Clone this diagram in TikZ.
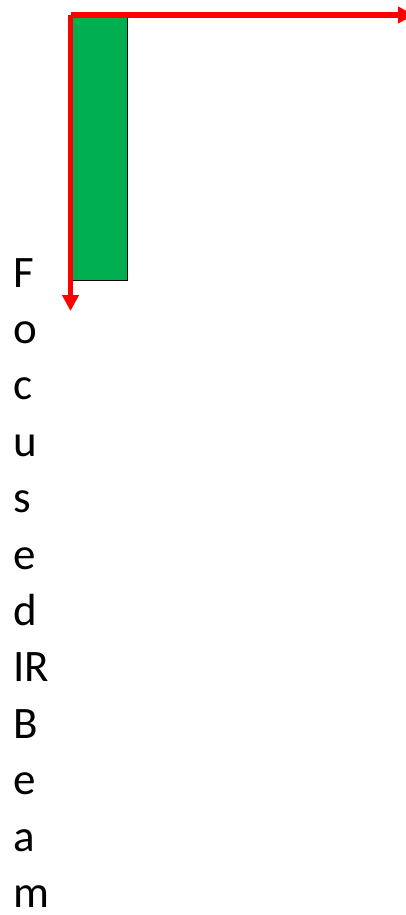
\documentclass[tikz,border=0pt]{standalone}
\usepackage{fontspec}
\setmainfont{Carlito}
\usepackage{tikz}
\usetikzlibrary{arrows.meta}
\definecolor{samplegreen}{RGB}{0,176,80}
\definecolor{axisred}{RGB}{255,0,0}

\begin{document}
\begin{tikzpicture}[
  x=1pt, y=-1pt,
  sample/.style={draw=black, line width=1.3pt, fill=samplegreen},
  axis/.style={-{Triangle[length=16pt, width=16pt]}, line width=5.5pt, draw=axisred},
  letter/.style={anchor=base west, inner sep=0pt, font=\fontsize{45}{54}\selectfont}
]
\useasboundingbox (0,0) rectangle (405,915);
\node[sample, minimum width=56pt, minimum height=265pt, inner sep=0pt, anchor=north west] (slab) at (71,15) {};
\coordinate (origin) at (70.5,15);
\coordinate (xend) at (414,15);
\coordinate (yend) at (70.5,311);
\draw[axis] (origin) -- (xend);
\draw[axis] (origin) -- (yend);
% beam label, one letter per line
\foreach \ch [count=\i] in {F,o,c,u,s,e,d,IR,B,e,a,m}
  \node[letter] (beam\i) at (13, {287+56.4*(\i-1)}) {\ch};
\end{tikzpicture}
\end{document}
